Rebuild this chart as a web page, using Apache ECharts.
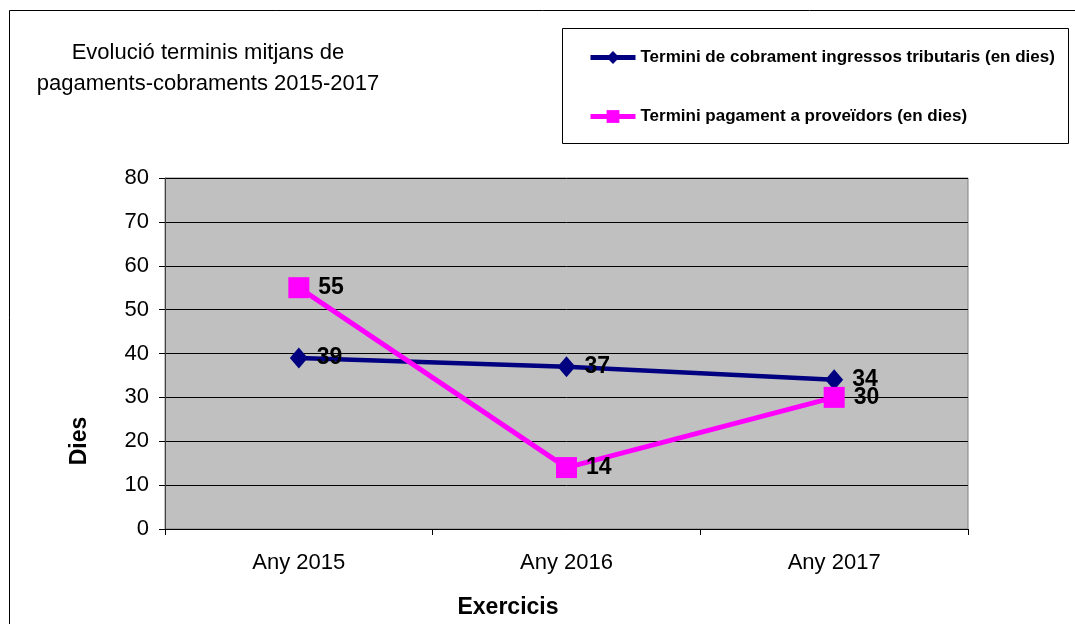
<!DOCTYPE html>
<html>
<head>
<meta charset="utf-8">
<script src="https://cdn.jsdelivr.net/npm/echarts@6/dist/echarts.min.js"></script>
<style>html,body{margin:0;padding:0;background:#fff}#c{width:1075px;height:624px}</style>
</head>
<body>
<div id="c"></div>
<script>
const categories = ['Any 2015', 'Any 2016', 'Any 2017'];
const cobramentName = 'Termini de cobrament ingressos tributaris (en dies)';
const cobrament = [39, 37, 34];
const pagamentName = 'Termini pagament a proveïdors (en dies)';
const pagament = [55, 14, 30];
const titleText = 'Evolució terminis mitjans de\npagaments-cobraments 2015-2017';
const xTitle = 'Exercicis';
const yTitle = 'Dies';

const FONT = 'Liberation Sans, Arial, sans-serif';
const chart = echarts.init(document.getElementById('c'), null, {renderer: 'canvas'});
chart.setOption({
  animation: false,
  backgroundColor: '#fff',
  graphic: [
    {type: 'rect', shape: {x: 9.5, y: 10.5, width: 1200, height: 800}, style: {fill: 'none', stroke: '#000', lineWidth: 1}, z: -10},
    {type: 'rect', shape: {x: 562.5, y: 28.5, width: 506, height: 115}, style: {fill: '#fff', stroke: '#000', lineWidth: 1}, z: -5},
    {type: 'text', x: 208, y: 37, style: {text: titleText, fontSize: 22, fontFamily: FONT, fill: '#000', align: 'center', lineHeight: 31}},
    {type: 'text', x: 508, y: 608, style: {text: xTitle, fontSize: 23, fontWeight: 'bold', fontFamily: FONT, fill: '#000', align: 'center', verticalAlign: 'middle'}},
    {type: 'text', x: 80, y: 441, rotation: Math.PI / 2, style: {text: yTitle, fontSize: 23, fontWeight: 'bold', fontFamily: FONT, fill: '#000', align: 'center', verticalAlign: 'middle'}}
  ],
  legend: {
    orient: 'vertical',
    left: 583,
    top: 44,
    itemGap: 42,
    itemWidth: 45,
    itemHeight: 16,
    lineStyle: {width: 5},
    textStyle: {fontSize: 17, fontWeight: 'bold', fontFamily: FONT, color: '#000'},
    data: [cobramentName, pagamentName]
  },
  grid: {
    left: 165, right: 107, top: 178, bottom: 95,
    show: true, backgroundColor: '#c0c0c0', borderColor: '#808080', borderWidth: 1
  },
  xAxis: {
    type: 'category',
    data: categories,
    boundaryGap: true,
    axisLine: {lineStyle: {color: '#000', width: 1}},
    axisTick: {show: true, length: 6, lineStyle: {color: '#000'}},
    axisLabel: {fontSize: 22, fontFamily: FONT, color: '#000', margin: 23}
  },
  yAxis: {
    type: 'value',
    min: 0, max: 80, interval: 10,
    axisLine: {show: true, lineStyle: {color: '#404040', width: 1}},
    axisTick: {show: true, length: 6, lineStyle: {color: '#000'}},
    axisLabel: {fontSize: 22, fontFamily: FONT, color: '#000', margin: 16},
    splitLine: {show: true, lineStyle: {color: '#000', width: 1}}
  },
  series: [
    {
      name: cobramentName,
      type: 'line',
      data: cobrament,
      color: '#000080',
      lineStyle: {width: 4.5, color: '#000080'},
      symbol: 'diamond',
      symbolSize: [18, 21],
      itemStyle: {color: '#000080'},
      label: {show: true, position: 'right', distance: 9, fontSize: 23, fontWeight: 'bold', fontFamily: FONT, color: '#000'},
      z: 3
    },
    {
      name: pagamentName,
      type: 'line',
      data: pagament,
      color: '#ff00ff',
      lineStyle: {width: 5, color: '#ff00ff'},
      symbol: 'rect',
      symbolSize: 21,
      itemStyle: {color: '#ff00ff'},
      label: {show: true, position: 'right', distance: 9, fontSize: 23, fontWeight: 'bold', fontFamily: FONT, color: '#000'},
      z: 4
    }
  ]
});
</script>
</body>
</html>
